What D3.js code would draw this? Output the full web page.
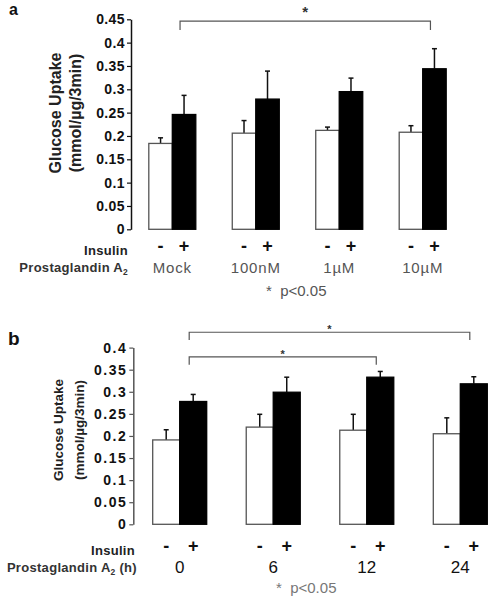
<!DOCTYPE html>
<html><head><meta charset="utf-8">
<script src="https://cdn.jsdelivr.net/npm/d3@7"></script>
<style>body{margin:0;background:#fff}svg{display:block}text{font-family:Arial,"Liberation Sans",sans-serif}</style>
</head><body>
<script>
// Panel a data
const groupsA = ["Mock","100nM","1µM","10µM"];
const noInsA = [0.184,0.206,0.212,0.208];
const noInsErrA = [0.012,0.027,0.007,0.014];
const insA = [0.246,0.279,0.295,0.344];
const insErrA = [0.041,0.060,0.029,0.043];
const ticksA = [0,0.05,0.1,0.15,0.2,0.25,0.3,0.35,0.4,0.45];
const tickLabelsA = ["0","0.05","0.1","0.15","0.2","0.25","0.3","0.35","0.4","0.45"];
// Panel b data
const groupsB = ["0","6","12","24"];
const noInsB = [0.191,0.220,0.213,0.205];
const noInsErrB = [0.023,0.029,0.036,0.036];
const insB = [0.278,0.299,0.333,0.318];
const insErrB = [0.016,0.034,0.013,0.016];
const ticksB = [0,0.05,0.1,0.15,0.2,0.25,0.3,0.35,0.4];
const tickLabelsB = ["0","0.05","0.1","0.15","0.2","0.25","0.3","0.35","0.4"];
const insulinLabels = ["-","+"];

const svg = d3.select("body").append("svg").attr("width",491).attr("height",600);

function panel(cfg){
  const g = svg.append("g");
  const y = d3.scaleLinear().domain([0,cfg.ymax]).range([cfg.y0,cfg.y1]);
  const x = d3.scalePoint().domain(cfg.groups).range(cfg.xr);
  const sub = d3.scaleBand().domain([0,1]).range([-cfg.bw,cfg.bw]);
  // axis
  const ax = g.append("g").attr("transform",`translate(${cfg.axX},0)`)
    .call(d3.axisLeft(y).tickValues(cfg.ticks).tickFormat((d,i)=>cfg.tickLabels[i]).tickSize(4).tickSizeOuter(0));
  ax.select(".domain").attr("stroke",cfg.axColor).attr("stroke-width",1.5);
  ax.selectAll(".tick line").attr("stroke",cfg.axColor).attr("stroke-width",1.2);
  ax.selectAll(".tick text").attr("font-size",cfg.tickFs).attr("font-weight","bold")
    .attr("fill","#111").attr("letter-spacing",cfg.tickLs).attr("x",-6);
  const series = [{v:cfg.noIns,e:cfg.noInsErr,s:0},{v:cfg.ins,e:cfg.insErr,s:1}];
  series.forEach(sr=>{
    cfg.groups.forEach((gr,i)=>{
      const bx = x(gr)+sub(sr.s);
      const cx = bx+sub.bandwidth()/2;
      const top = y(sr.v[i]), et = y(sr.v[i]+sr.e[i]);
      g.append("line").attr("x1",cx).attr("x2",cx).attr("y1",top).attr("y2",et).attr("stroke","#111").attr("stroke-width",1.5);
      g.append("line").attr("x1",cx-2.5).attr("x2",cx+2.5).attr("y1",et).attr("y2",et).attr("stroke","#111").attr("stroke-width",1.5);
      g.append("rect").attr("x",bx).attr("y",top).attr("width",sub.bandwidth()).attr("height",cfg.y0-top)
        .attr("fill",sr.s?"#000":"#fff").attr("stroke",sr.s?"#000":"#555").attr("stroke-width",1.3);
      g.append("text").attr("x",cx).attr("y",cfg.insY+1).attr("text-anchor","middle")
        .attr("font-size",18).attr("font-weight","bold").attr("fill","#111").text(insulinLabels[sr.s]);
    });
  });
  cfg.groups.forEach(gr=>{
    g.append("text").attr("x",x(gr)).attr("y",cfg.grpY).attr("text-anchor","middle")
      .attr("font-size",cfg.grpFs).attr("font-weight",cfg.grpW).attr("fill",cfg.grpColor)
      .attr("letter-spacing",cfg.grpLs).text(gr);
  });
  // brackets
  cfg.brackets.forEach(b=>{
    const xa = x(cfg.groups[b.from])+sub(1)+sub.bandwidth()/2-4;
    const xb = x(cfg.groups[b.to])+sub(1)+sub.bandwidth()/2-4;
    const yt = y(b.level), ye = y(b.end);
    g.append("path").attr("d",`M${xa},${ye}V${yt}H${xb}V${ye}`).attr("fill","none").attr("stroke","#555").attr("stroke-width",1.2);
    g.append("text").attr("x",(xa+xb)/2 + (b.dx||0)).attr("y",yt-b.sy).attr("text-anchor","middle")
      .attr("font-size",b.fs).attr("font-weight","bold").attr("fill","#333").text("*");
  });
  // labels
  g.append("text").attr("x",cfg.insX).attr("y",cfg.insY+4).attr("text-anchor","end")
    .attr("font-size",cfg.labFs).attr("font-weight","bold").attr("fill","#222").attr("letter-spacing",cfg.labLs).text("Insulin");
  const pt = g.append("text").attr("x",cfg.insX+cfg.pgDx).attr("y",cfg.grpY-1).attr("text-anchor","end")
    .attr("font-size",cfg.labFs).attr("font-weight","bold").attr("fill","#333").attr("letter-spacing",cfg.labLs);
  pt.append("tspan").text("Prostaglandin A");
  pt.append("tspan").attr("font-size",cfg.labFs*0.65).attr("dy",3).text("2");
  if(cfg.pgSuffix) pt.append("tspan").attr("dy",-3).text(cfg.pgSuffix);
  // y title
  const yt = g.append("text").attr("transform",`translate(${cfg.ytX},${cfg.ytY}) rotate(-90)`)
    .attr("text-anchor","middle").attr("font-size",cfg.ytFs).attr("font-weight","bold").attr("fill","#222");
  yt.append("tspan").attr("x",0).attr("dy",0).text("Glucose Uptake");
  yt.append("tspan").attr("x",0).attr("dy",cfg.ytGap).text("(mmol/µg/3min)");
  // panel letter
  g.append("text").attr("x",cfg.letX).attr("y",cfg.letY).attr("font-size",cfg.letFs).attr("font-weight","bold").attr("fill","#111").text(cfg.letter);
  // p value
  g.append("text").attr("x",cfg.pX).attr("y",cfg.pY).attr("font-size",15).attr("fill",cfg.pColor).attr("xml:space","preserve").text("*  p<0.05");
}

panel({groups:groupsA,noIns:noInsA,noInsErr:noInsErrA,ins:insA,insErr:insErrA,ticks:ticksA,tickLabels:tickLabelsA,
  ymax:0.45,y0:229.3,y1:19.3,xr:[172.3,422.7],bw:23.5,axX:131,axColor:"#111",tickFs:14,tickLs:0.4,
  insY:251,insX:128,grpY:273,grpFs:15,grpW:"normal",grpColor:"#555",grpLs:0.8,labFs:13,labLs:0.3,pgDx:0,pgSuffix:"",
  brackets:[{from:0,to:3,level:0.446,end:0.427,sy:4,fs:15}],
  ytX:61,ytY:113,ytFs:16,ytGap:20,letter:"a",letX:9,letY:15,letFs:16,pX:266,pY:296,pColor:"#555"});

panel({groups:groupsB,noIns:noInsB,noInsErr:noInsErrB,ins:insB,insErr:insErrB,ticks:ticksB,tickLabels:tickLabelsB,
  ymax:0.4,y0:524.3,y1:347.6,xr:[179.7,460.3],bw:27,axX:133.3,axColor:"#555",tickFs:14,tickLs:1.5,
  insY:551,insX:135,grpY:573,grpFs:17,grpW:"normal",grpColor:"#111",grpLs:0,labFs:13,labLs:0.3,pgDx:2,pgSuffix:" (h)",
  brackets:[{from:0,to:3,level:0.4347,end:0.417,sy:-1,fs:11},{from:0,to:2,level:0.379,end:0.361,sy:-1,fs:11,dx:0}],
  ytX:63,ytY:430,ytFs:13.5,ytGap:21,letter:"b",letX:8,letY:345,letFs:19,pX:276,pY:593,pColor:"#777"});
</script>
</body></html>
